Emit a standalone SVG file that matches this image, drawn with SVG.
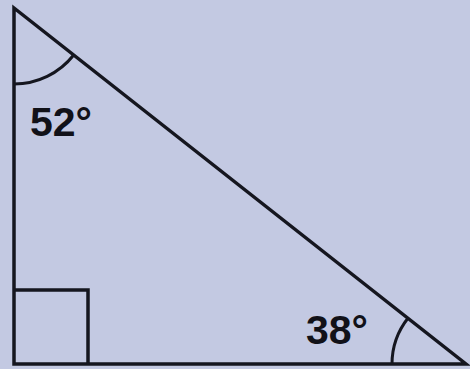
<svg xmlns="http://www.w3.org/2000/svg" width="470" height="369" viewBox="0 0 470 369">
<style>
.ln{fill:none;stroke:#15161f;stroke-width:3.5;stroke-linejoin:miter}
.arc{fill:none;stroke:#15161f;stroke-width:3}
.lbl{font-family:"Liberation Sans",Arial,sans-serif;font-weight:bold;font-size:41px;fill:#111118}
</style>
<rect width="470" height="369" fill="#c3c9e2"/>
<g id="triangle">
<path class="ln" d="M14,8 L14,364 L466,364 Z"/>
</g>
<g id="right-angle">
<path class="ln" d="M14,290 L88,290 L88,364"/>
</g>
<g id="angle-top">
<path class="arc" d="M14,84 A76,76 0 0 0 73.7,55"/>
<text class="lbl" x="30" y="136">52°</text>
</g>
<g id="angle-bottom">
<path class="arc" d="M392,364 A74,74 0 0 1 407.9,318.2"/>
<text class="lbl" x="306" y="344">38°</text>
</g>
</svg>
